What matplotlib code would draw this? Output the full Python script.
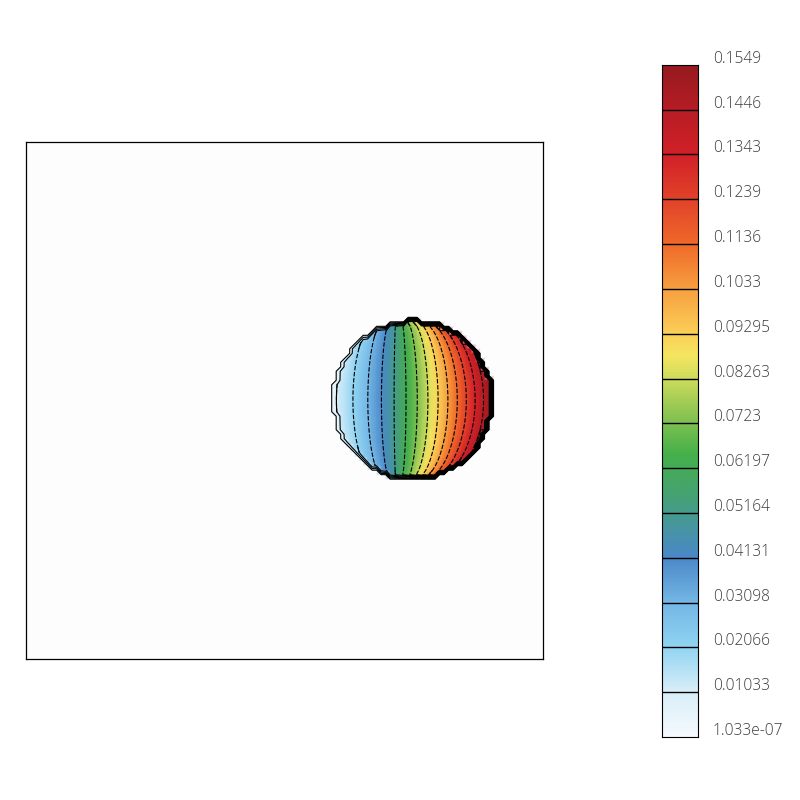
import numpy as np
import matplotlib
matplotlib.use("Agg")
import matplotlib.pyplot as plt
from matplotlib.colors import LinearSegmentedColormap
from matplotlib.tri import Triangulation
from matplotlib import transforms

"""Datos"""
niveles = [1.033e-07, 0.01033, 0.02066, 0.03098, 0.04131, 0.05164, 0.06197,
           0.0723, 0.08263, 0.09295, 0.1033, 0.1136, 0.1239, 0.1343, 0.1446, 0.1549]
etiquetas = ["1.033e-07", "0.01033", "0.02066", "0.03098", "0.04131", "0.05164",
             "0.06197", "0.0723", "0.08263", "0.09295", "0.1033", "0.1136",
             "0.1239", "0.1343", "0.1446", "0.1549"]

# disco (centro, radio) en el dominio [0,1]x[0,1]
xc, yc, R = 0.749, 0.501, 0.152
n_malla = 116
alfa = 0.55                      # cuanto siguen las curvas al borde del disco
t_recta = 0.4                    # posicion de la curva mas recta
perfil = [0.06, 0.59, 0.35]      # valor normalizado a lo largo del diametro

# paleta
pos_col = [0.0, 0.067, 0.135, 0.2, 0.267, 0.31, 0.36, 0.42, 0.48, 0.535,
           0.567, 0.6, 0.667, 0.733, 0.8, 0.867, 0.933, 1.0]
cols = ["#f5fafd", "#d8eef9", "#8fd3f2", "#74b6e5", "#4a88c8", "#4795a2",
        "#45a272", "#45b04a", "#8cc553", "#cfdc5c", "#f4e660", "#fbd058",
        "#f7a040", "#f06a2a", "#e2432a", "#d22128", "#b81d25", "#961a1e"]
cmap = LinearSegmentedColormap.from_list("ff", list(zip(pos_col, cols)))

vmin, vmax = niveles[0], niveles[-1]

"""Campo sobre la malla"""
x = np.linspace(0, 1, n_malla)
X, Y = np.meshgrid(x, x)
h = x[1] - x[0]
r = np.hypot(X - xc, Y - yc)
d = np.clip((Y - yc) / R, -1, 1)
W = alfa * np.sqrt(1 - d**2) + (1 - alfa)
x0 = xc - R + 2 * R * t_recta
t = np.clip(t_recta + (X - x0) / (2 * R * W), 0, 1)
F = vmax * np.clip(perfil[0] + perfil[1] * t + perfil[2] * t**2, 0, 1)
dentro = r <= R
Z = np.where(dentro, F, 0.0)

# triangulacion de la malla
idx = np.arange(n_malla * n_malla).reshape(n_malla, n_malla)
a = idx[:-1, :-1].ravel()
b = idx[:-1, 1:].ravel()
c = idx[1:, 1:].ravel()
e = idx[1:, :-1].ravel()
tris = np.vstack([np.column_stack([a, b, c]), np.column_stack([a, c, e])])
malla = Triangulation(X.ravel(), Y.ravel(), tris)
malla.set_mask(~dentro.ravel()[tris].any(axis=1))

"""Grafico"""
fig = plt.figure(figsize=(8, 8), dpi=100)
ax = fig.add_axes([26/800, 1 - 659/800, 517/800, 517/800])
ax.set_facecolor("#fdfdfd")
ax.tripcolor(malla, Z.ravel(), shading="gouraud", cmap=cmap, vmin=0, vmax=vmax)

# curvas interiores (a trazos)
Zi = np.ma.masked_where(~dentro, Z)
ax.contour(X, Y, Zi, levels=niveles[1:-1], colors="k", linewidths=0.8,
           linestyles=[(0, (4, 1.5))])
# borde del disco
Zb = np.ma.masked_where(r < R - 1.5 * h, Z)
ax.contour(X, Y, Zb, levels=niveles, colors="k", linewidths=0.8)

ax.set_xlim(0, 1)
ax.set_ylim(0, 1)
ax.set_xticks([])
ax.set_yticks([])
for sp in ax.spines.values():
    sp.set_linewidth(0.9)

# barra de colores
cax = fig.add_axes([662/800, 1 - 737/800, 36/800, 672/800])
grad = np.linspace(vmin, vmax, 512).reshape(-1, 1)
cax.imshow(grad, extent=[0, 1, vmin, vmax], origin="lower", aspect="auto",
           cmap=cmap, vmin=0, vmax=vmax)
for lv in niveles[1:-1]:
    cax.axhline(lv, color="k", lw=1.0)
cax.set_xlim(0, 1)
cax.set_ylim(vmin, vmax)
cax.set_xticks([])
cax.set_yticks([])

tr = transforms.offset_copy(cax.get_yaxis_transform(), fig=fig, x=0, y=6, units="dots")
for lv, et in zip(niveles, etiquetas):
    cax.text(51/36, lv, et, transform=tr, ha="left", va="center",
             fontsize=11.2, family="Open Sans", fontweight="light", color="#3a3a3a")

fig.savefig("out.png", dpi=100)
